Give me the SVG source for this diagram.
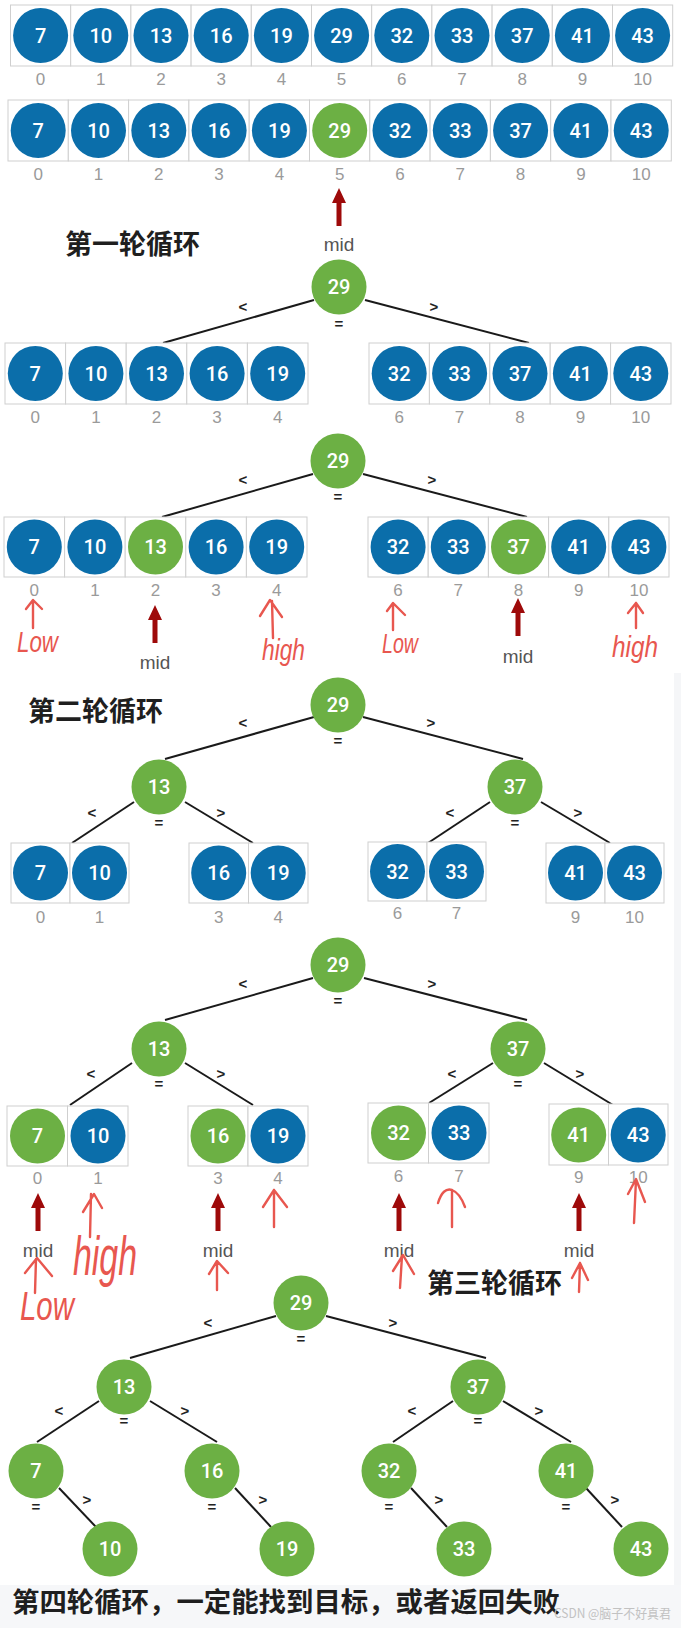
<svg xmlns="http://www.w3.org/2000/svg" width="681" height="1628" viewBox="0 0 681 1628">
<style>
.cell{fill:#fff;stroke:#cfcfcf;stroke-width:1}
.b{fill:#0b6eaa}
.g{fill:#6cb044}
.n{font-family:Roboto,"Liberation Sans",sans-serif;font-weight:500;font-size:20px;fill:#fff;text-anchor:middle}
.i{font-family:"Liberation Sans",Arial,sans-serif;font-size:17px;fill:#9a9a9a;text-anchor:middle}
.e{stroke:#1a1a1a;stroke-width:2;fill:none}
.op{font-family:"Liberation Sans",Arial,sans-serif;font-weight:bold;font-size:15px;fill:#222;text-anchor:middle}
.mid{font-family:"Liberation Sans",Arial,sans-serif;font-size:19px;fill:#555;text-anchor:middle}
.ar{fill:#9e0a0a}
.hw{stroke:#e8574f;stroke-width:2.4;fill:none;stroke-linecap:round;stroke-linejoin:round}
.ht{font-family:"Liberation Sans",Arial,sans-serif;font-style:italic;fill:#e8574f}
.cn{font-family:"Noto Sans CJK SC",sans-serif;font-weight:bold;font-size:27px;fill:#1f1f1f}
.wm{font-family:"Noto Sans CJK SC",sans-serif;font-size:13px;fill:#c2c2c2}
</style>
<defs>
<path id="arr" class="ar" d="M0,0 L-7,15 L-2.5,15 L-2.5,38 L2.5,38 L2.5,15 L7,15 Z"/>
</defs>
<rect x="0" y="0" width="681" height="1628" fill="#fff"/>
<rect x="674" y="673" width="7" height="912" fill="#f5f6f8"/>
<rect x="0" y="1585" width="681" height="43" fill="#f6f7f9"/>

<!-- Row A -->
<g id="rowA">
<rect class="cell" x="10.5" y="5" width="60.2" height="61"/><rect class="cell" x="70.7" y="5" width="60.2" height="61"/><rect class="cell" x="130.9" y="5" width="60.2" height="61"/><rect class="cell" x="191.1" y="5" width="60.2" height="61"/><rect class="cell" x="251.3" y="5" width="60.2" height="61"/><rect class="cell" x="311.5" y="5" width="60.2" height="61"/><rect class="cell" x="371.7" y="5" width="60.2" height="61"/><rect class="cell" x="431.9" y="5" width="60.2" height="61"/><rect class="cell" x="492.1" y="5" width="60.2" height="61"/><rect class="cell" x="552.3" y="5" width="60.2" height="61"/><rect class="cell" x="612.5" y="5" width="60.2" height="61"/>
<circle class="b" cx="40.6" cy="35.5" r="27.5"/><circle class="b" cx="100.8" cy="35.5" r="27.5"/><circle class="b" cx="161" cy="35.5" r="27.5"/><circle class="b" cx="221.2" cy="35.5" r="27.5"/><circle class="b" cx="281.4" cy="35.5" r="27.5"/><circle class="b" cx="341.6" cy="35.5" r="27.5"/><circle class="b" cx="401.8" cy="35.5" r="27.5"/><circle class="b" cx="462" cy="35.5" r="27.5"/><circle class="b" cx="522.2" cy="35.5" r="27.5"/><circle class="b" cx="582.4" cy="35.5" r="27.5"/><circle class="b" cx="642.6" cy="35.5" r="27.5"/>
<text class="n" x="40.6" y="42.5">7</text><text class="n" x="100.8" y="42.5">10</text><text class="n" x="161" y="42.5">13</text><text class="n" x="221.2" y="42.5">16</text><text class="n" x="281.4" y="42.5">19</text><text class="n" x="341.6" y="42.5">29</text><text class="n" x="401.8" y="42.5">32</text><text class="n" x="462" y="42.5">33</text><text class="n" x="522.2" y="42.5">37</text><text class="n" x="582.4" y="42.5">41</text><text class="n" x="642.6" y="42.5">43</text>
<text class="i" x="40.6" y="85">0</text><text class="i" x="100.8" y="85">1</text><text class="i" x="161" y="85">2</text><text class="i" x="221.2" y="85">3</text><text class="i" x="281.4" y="85">4</text><text class="i" x="341.6" y="85">5</text><text class="i" x="401.8" y="85">6</text><text class="i" x="462" y="85">7</text><text class="i" x="522.2" y="85">8</text><text class="i" x="582.4" y="85">9</text><text class="i" x="642.6" y="85">10</text>
</g>

<!-- Row B -->
<g id="rowB">
<rect class="cell" x="8" y="100" width="60.3" height="61"/><rect class="cell" x="68.3" y="100" width="60.3" height="61"/><rect class="cell" x="128.6" y="100" width="60.3" height="61"/><rect class="cell" x="188.9" y="100" width="60.3" height="61"/><rect class="cell" x="249.2" y="100" width="60.3" height="61"/><rect class="cell" x="309.5" y="100" width="60.3" height="61"/><rect class="cell" x="369.8" y="100" width="60.3" height="61"/><rect class="cell" x="430.1" y="100" width="60.3" height="61"/><rect class="cell" x="490.4" y="100" width="60.3" height="61"/><rect class="cell" x="550.7" y="100" width="60.3" height="61"/><rect class="cell" x="611" y="100" width="60.3" height="61"/>
<circle class="b" cx="38.2" cy="130.5" r="27.5"/><circle class="b" cx="98.5" cy="130.5" r="27.5"/><circle class="b" cx="158.8" cy="130.5" r="27.5"/><circle class="b" cx="219.1" cy="130.5" r="27.5"/><circle class="b" cx="279.4" cy="130.5" r="27.5"/><circle class="g" cx="339.7" cy="130.5" r="27.5"/><circle class="b" cx="400" cy="130.5" r="27.5"/><circle class="b" cx="460.3" cy="130.5" r="27.5"/><circle class="b" cx="520.6" cy="130.5" r="27.5"/><circle class="b" cx="580.9" cy="130.5" r="27.5"/><circle class="b" cx="641.2" cy="130.5" r="27.5"/>
<text class="n" x="38.2" y="137.5">7</text><text class="n" x="98.5" y="137.5">10</text><text class="n" x="158.8" y="137.5">13</text><text class="n" x="219.1" y="137.5">16</text><text class="n" x="279.4" y="137.5">19</text><text class="n" x="339.7" y="137.5">29</text><text class="n" x="400" y="137.5">32</text><text class="n" x="460.3" y="137.5">33</text><text class="n" x="520.6" y="137.5">37</text><text class="n" x="580.9" y="137.5">41</text><text class="n" x="641.2" y="137.5">43</text>
<text class="i" x="38.2" y="180">0</text><text class="i" x="98.5" y="180">1</text><text class="i" x="158.8" y="180">2</text><text class="i" x="219.1" y="180">3</text><text class="i" x="279.4" y="180">4</text><text class="i" x="339.7" y="180">5</text><text class="i" x="400" y="180">6</text><text class="i" x="460.3" y="180">7</text><text class="i" x="520.6" y="180">8</text><text class="i" x="580.9" y="180">9</text><text class="i" x="641.2" y="180">10</text>
<use href="#arr" x="339" y="188"/>
<text class="mid" x="339" y="251">mid</text>
</g>
<text class="cn" x="65" y="254">第一轮循环</text>

<!-- Section 2 -->
<g id="connectors2">
<line class="e" x1="314" y1="300" x2="163" y2="343"/><line class="e" x1="365" y1="300" x2="529" y2="343"/>
<text class="op" x="243" y="312">&lt;</text><text class="op" x="434" y="312">&gt;</text><text class="op" x="339" y="329">=</text>
</g>
<g id="s2root"><circle class="g" cx="339" cy="287" r="27.5"/><text class="n" x="339" y="294">29</text></g>
<g id="s2left">
<rect class="cell" x="5" y="343" width="60.6" height="61"/><rect class="cell" x="65.6" y="343" width="60.6" height="61"/><rect class="cell" x="126.2" y="343" width="60.6" height="61"/><rect class="cell" x="186.8" y="343" width="60.6" height="61"/><rect class="cell" x="247.4" y="343" width="60.6" height="61"/>
<circle class="b" cx="35.3" cy="373.5" r="27.5"/><circle class="b" cx="95.9" cy="373.5" r="27.5"/><circle class="b" cx="156.5" cy="373.5" r="27.5"/><circle class="b" cx="217.1" cy="373.5" r="27.5"/><circle class="b" cx="277.7" cy="373.5" r="27.5"/>
<text class="n" x="35.3" y="380.5">7</text><text class="n" x="95.9" y="380.5">10</text><text class="n" x="156.5" y="380.5">13</text><text class="n" x="217.1" y="380.5">16</text><text class="n" x="277.7" y="380.5">19</text>
<text class="i" x="35.3" y="423">0</text><text class="i" x="95.9" y="423">1</text><text class="i" x="156.5" y="423">2</text><text class="i" x="217.1" y="423">3</text><text class="i" x="277.7" y="423">4</text>
</g>
<g id="s2right">
<rect class="cell" x="369" y="343" width="60.4" height="61"/><rect class="cell" x="429.4" y="343" width="60.4" height="61"/><rect class="cell" x="489.8" y="343" width="60.4" height="61"/><rect class="cell" x="550.2" y="343" width="60.4" height="61"/><rect class="cell" x="610.6" y="343" width="60.4" height="61"/>
<circle class="b" cx="399.2" cy="373.5" r="27.5"/><circle class="b" cx="459.6" cy="373.5" r="27.5"/><circle class="b" cx="520" cy="373.5" r="27.5"/><circle class="b" cx="580.4" cy="373.5" r="27.5"/><circle class="b" cx="640.8" cy="373.5" r="27.5"/>
<text class="n" x="399.2" y="380.5">32</text><text class="n" x="459.6" y="380.5">33</text><text class="n" x="520" y="380.5">37</text><text class="n" x="580.4" y="380.5">41</text><text class="n" x="640.8" y="380.5">43</text>
<text class="i" x="399.2" y="423">6</text><text class="i" x="459.6" y="423">7</text><text class="i" x="520" y="423">8</text><text class="i" x="580.4" y="423">9</text><text class="i" x="640.8" y="423">10</text>
</g>

<!-- Section 3 -->
<g id="connectors3">
<line class="e" x1="313" y1="474" x2="162" y2="517"/><line class="e" x1="363" y1="474" x2="527" y2="517"/>
<text class="op" x="243" y="485">&lt;</text><text class="op" x="432" y="485">&gt;</text><text class="op" x="338" y="502">=</text>
</g>
<g id="s3root"><circle class="g" cx="338" cy="461" r="27.5"/><text class="n" x="338" y="468">29</text></g>
<g id="s3left">
<rect class="cell" x="4" y="517" width="60.6" height="60"/><rect class="cell" x="64.6" y="517" width="60.6" height="60"/><rect class="cell" x="125.2" y="517" width="60.6" height="60"/><rect class="cell" x="185.8" y="517" width="60.6" height="60"/><rect class="cell" x="246.4" y="517" width="60.6" height="60"/>
<circle class="b" cx="34.3" cy="547" r="27.5"/><circle class="b" cx="94.9" cy="547" r="27.5"/><circle class="g" cx="155.5" cy="547" r="27.5"/><circle class="b" cx="216.1" cy="547" r="27.5"/><circle class="b" cx="276.7" cy="547" r="27.5"/>
<text class="n" x="34.3" y="554">7</text><text class="n" x="94.9" y="554">10</text><text class="n" x="155.5" y="554">13</text><text class="n" x="216.1" y="554">16</text><text class="n" x="276.7" y="554">19</text>
<text class="i" x="34.3" y="596">0</text><text class="i" x="94.9" y="596">1</text><text class="i" x="155.5" y="596">2</text><text class="i" x="216.1" y="596">3</text><text class="i" x="276.7" y="596">4</text>
</g>
<g id="s3right">
<rect class="cell" x="368" y="517" width="60.2" height="60"/><rect class="cell" x="428.2" y="517" width="60.2" height="60"/><rect class="cell" x="488.4" y="517" width="60.2" height="60"/><rect class="cell" x="548.6" y="517" width="60.2" height="60"/><rect class="cell" x="608.8" y="517" width="60.2" height="60"/>
<circle class="b" cx="398.1" cy="547" r="27.5"/><circle class="b" cx="458.3" cy="547" r="27.5"/><circle class="g" cx="518.5" cy="547" r="27.5"/><circle class="b" cx="578.7" cy="547" r="27.5"/><circle class="b" cx="638.9" cy="547" r="27.5"/>
<text class="n" x="398.1" y="554">32</text><text class="n" x="458.3" y="554">33</text><text class="n" x="518.5" y="554">37</text><text class="n" x="578.7" y="554">41</text><text class="n" x="638.9" y="554">43</text>
<text class="i" x="398.1" y="596">6</text><text class="i" x="458.3" y="596">7</text><text class="i" x="518.5" y="596">8</text><text class="i" x="578.7" y="596">9</text><text class="i" x="638.9" y="596">10</text>
</g>
<g id="s3marks">
<use href="#arr" x="155" y="605"/><text class="mid" x="155" y="669">mid</text>
<use href="#arr" x="518" y="598"/><text class="mid" x="518" y="663">mid</text>
<path class="hw" d="M33,628 L33,601 M26,609 L33,600 L42,609"/>
<text class="ht" x="17" y="652" font-size="30" textLength="41" lengthAdjust="spacingAndGlyphs">Low</text>
<path class="hw" d="M273,638 L272,601 M260,616 L270,600 L282,617"/>
<text class="ht" x="262" y="660" font-size="30" textLength="43" lengthAdjust="spacingAndGlyphs">high</text>
<path class="hw" d="M393,630 L393,604 M387,611 L393,603 L405,615"/>
<text class="ht" x="382" y="653" font-size="28" textLength="36" lengthAdjust="spacingAndGlyphs">Low</text>
<path class="hw" d="M636,628 L636,603 M628,613 L636,603 L643,613"/>
<text class="ht" x="612" y="657" font-size="30" textLength="46" lengthAdjust="spacingAndGlyphs">high</text>
</g>

<!-- Section 4 -->
<text class="cn" x="28" y="721">第二轮循环</text>
<g id="connectors4">
<line class="e" x1="314" y1="717" x2="165" y2="759"/><line class="e" x1="363" y1="717" x2="523" y2="759"/>
<line class="e" x1="134" y1="802" x2="72" y2="843"/><line class="e" x1="185" y1="802" x2="253" y2="843"/>
<line class="e" x1="490" y1="802" x2="428" y2="843"/><line class="e" x1="541" y1="802" x2="610" y2="843"/>
<text class="op" x="243" y="728">&lt;</text><text class="op" x="431" y="728">&gt;</text><text class="op" x="338" y="746">=</text>
<text class="op" x="92" y="818">&lt;</text><text class="op" x="221" y="818">&gt;</text><text class="op" x="159" y="828">=</text>
<text class="op" x="450" y="818">&lt;</text><text class="op" x="578" y="818">&gt;</text><text class="op" x="515" y="828">=</text>
</g>
<g id="s4root"><circle class="g" cx="338" cy="705" r="27.5"/><text class="n" x="338" y="712">29</text></g>
<g id="s4n13"><circle class="g" cx="159" cy="787" r="27.5"/><text class="n" x="159" y="794">13</text></g>
<g id="s4n37"><circle class="g" cx="515" cy="787" r="27.5"/><text class="n" x="515" y="794">37</text></g>
<g id="s4a">
<rect class="cell" x="11" y="843" width="59" height="60"/><rect class="cell" x="70" y="843" width="59" height="60"/>
<circle class="b" cx="40.5" cy="873" r="27.5"/><circle class="b" cx="99.5" cy="873" r="27.5"/>
<text class="n" x="40.5" y="880">7</text><text class="n" x="99.5" y="880">10</text>
<text class="i" x="40.5" y="923">0</text><text class="i" x="99.5" y="923">1</text>
</g>
<g id="s4b">
<rect class="cell" x="189" y="843" width="59.5" height="60"/><rect class="cell" x="248.5" y="843" width="59.5" height="60"/>
<circle class="b" cx="218.7" cy="873" r="27.5"/><circle class="b" cx="278.2" cy="873" r="27.5"/>
<text class="n" x="218.7" y="880">16</text><text class="n" x="278.2" y="880">19</text>
<text class="i" x="218.7" y="923">3</text><text class="i" x="278.2" y="923">4</text>
</g>
<g id="s4c">
<rect class="cell" x="368" y="842" width="59" height="59"/><rect class="cell" x="427" y="842" width="59" height="59"/>
<circle class="b" cx="397.5" cy="871.5" r="27.5"/><circle class="b" cx="456.5" cy="871.5" r="27.5"/>
<text class="n" x="397.5" y="878.5">32</text><text class="n" x="456.5" y="878.5">33</text>
<text class="i" x="397.5" y="919">6</text><text class="i" x="456.5" y="919">7</text>
</g>
<g id="s4d">
<rect class="cell" x="546" y="843" width="59" height="60"/><rect class="cell" x="605" y="843" width="59" height="60"/>
<circle class="b" cx="575.5" cy="873" r="27.5"/><circle class="b" cx="634.5" cy="873" r="27.5"/>
<text class="n" x="575.5" y="880">41</text><text class="n" x="634.5" y="880">43</text>
<text class="i" x="575.5" y="923">9</text><text class="i" x="634.5" y="923">10</text>
</g>

<!-- Section 5 -->
<g id="connectors5">
<line class="e" x1="313" y1="978" x2="165" y2="1020"/><line class="e" x1="364" y1="978" x2="527" y2="1020"/>
<line class="e" x1="132" y1="1063" x2="70" y2="1105"/><line class="e" x1="185" y1="1063" x2="253" y2="1105"/>
<line class="e" x1="493" y1="1063" x2="429" y2="1103"/><line class="e" x1="544" y1="1063" x2="613" y2="1105"/>
<text class="op" x="243" y="989">&lt;</text><text class="op" x="432" y="989">&gt;</text><text class="op" x="338" y="1006">=</text>
<text class="op" x="91" y="1079">&lt;</text><text class="op" x="221" y="1079">&gt;</text><text class="op" x="159" y="1089">=</text>
<text class="op" x="452" y="1079">&lt;</text><text class="op" x="580" y="1079">&gt;</text><text class="op" x="518" y="1089">=</text>
</g>
<g id="s5root"><circle class="g" cx="338" cy="965" r="27.5"/><text class="n" x="338" y="972">29</text></g>
<g id="s5n13"><circle class="g" cx="159" cy="1049" r="27.5"/><text class="n" x="159" y="1056">13</text></g>
<g id="s5n37"><circle class="g" cx="518" cy="1049" r="27.5"/><text class="n" x="518" y="1056">37</text></g>
<g id="s5a">
<rect class="cell" x="7" y="1106" width="60.5" height="60"/><rect class="cell" x="67.5" y="1106" width="60.5" height="60"/>
<circle class="g" cx="37.5" cy="1136" r="27.5"/><circle class="b" cx="98" cy="1136" r="27.5"/>
<text class="n" x="37.5" y="1143">7</text><text class="n" x="98" y="1143">10</text>
<text class="i" x="37.5" y="1184">0</text><text class="i" x="98" y="1184">1</text>
</g>
<g id="s5b">
<rect class="cell" x="188" y="1106" width="60" height="60"/><rect class="cell" x="248" y="1106" width="60" height="60"/>
<circle class="g" cx="218" cy="1136" r="27.5"/><circle class="b" cx="278" cy="1136" r="27.5"/>
<text class="n" x="218" y="1143">16</text><text class="n" x="278" y="1143">19</text>
<text class="i" x="218" y="1184">3</text><text class="i" x="278" y="1184">4</text>
</g>
<g id="s5c">
<rect class="cell" x="368" y="1103" width="60.5" height="60"/><rect class="cell" x="428.5" y="1103" width="60.5" height="60"/>
<circle class="g" cx="398.5" cy="1133" r="27.5"/><circle class="b" cx="459" cy="1133" r="27.5"/>
<text class="n" x="398.5" y="1140">32</text><text class="n" x="459" y="1140">33</text>
<text class="i" x="398.5" y="1182">6</text><text class="i" x="459" y="1182">7</text>
</g>
<g id="s5d">
<rect class="cell" x="549" y="1104" width="59.5" height="61"/><rect class="cell" x="608.5" y="1104" width="59.5" height="61"/>
<circle class="g" cx="578.7" cy="1135" r="27.5"/><circle class="b" cx="638.2" cy="1135" r="27.5"/>
<text class="n" x="578.7" y="1142">41</text><text class="n" x="638.2" y="1142">43</text>
<text class="i" x="578.7" y="1183">9</text><text class="i" x="638.2" y="1183">10</text>
</g>
<g id="s5marks">
<use href="#arr" x="38" y="1193"/><text class="mid" x="38" y="1257">mid</text>
<use href="#arr" x="218" y="1193"/><text class="mid" x="218" y="1257">mid</text>
<use href="#arr" x="399" y="1193"/><text class="mid" x="399" y="1257">mid</text>
<use href="#arr" x="579" y="1193"/><text class="mid" x="579" y="1257">mid</text>
<path class="hw" d="M90,1237 L91,1194 M83,1212 L94,1194 L102,1208"/>
<text class="ht" x="73" y="1275" font-size="56" textLength="64" lengthAdjust="spacingAndGlyphs">high</text>
<path class="hw" d="M274,1227 L274,1190 M263,1207 L274,1190 L287,1207"/>
<path class="hw" d="M452,1227 L452,1190 M438,1203 Q443,1187 452,1190 Q460,1193 465,1207"/>
<path class="hw" d="M634,1223 L636,1180 M628,1194 L636,1179 L645,1202"/>
<path class="hw" d="M35,1293 L36,1259 M25,1273 L37,1258 L52,1276"/>
<path class="hw" d="M217,1290 L217,1262 M209,1274 L217,1261 L228,1273"/>
<path class="hw" d="M400,1288 L402,1256 M393,1271 L403,1255 L414,1274"/>
<path class="hw" d="M579,1292 L580,1263 M572,1278 L580,1263 L588,1280"/>
<text class="ht" x="20" y="1320" font-size="40" textLength="54" lengthAdjust="spacingAndGlyphs">Low</text>
</g>
<text class="cn" x="427" y="1293">第三轮循环</text>

<!-- Section 6 -->
<g id="connectors6">
<line class="e" x1="276" y1="1316" x2="130" y2="1358"/><line class="e" x1="326" y1="1316" x2="486" y2="1358"/>
<line class="e" x1="99" y1="1401" x2="37" y2="1442"/><line class="e" x1="150" y1="1401" x2="217" y2="1442"/>
<line class="e" x1="453" y1="1401" x2="393" y2="1442"/><line class="e" x1="503" y1="1401" x2="571" y2="1442"/>
<line class="e" x1="59" y1="1488" x2="96" y2="1527"/><line class="e" x1="235" y1="1488" x2="271" y2="1527"/>
<line class="e" x1="411" y1="1488" x2="447" y2="1527"/><line class="e" x1="586" y1="1488" x2="622" y2="1527"/>
<text class="op" x="208" y="1328">&lt;</text><text class="op" x="393" y="1328">&gt;</text><text class="op" x="301" y="1344">=</text>
<text class="op" x="59" y="1416">&lt;</text><text class="op" x="185" y="1416">&gt;</text><text class="op" x="124" y="1426">=</text>
<text class="op" x="412" y="1416">&lt;</text><text class="op" x="539" y="1416">&gt;</text><text class="op" x="478" y="1426">=</text>
<text class="op" x="87" y="1505">&gt;</text><text class="op" x="36" y="1512">=</text>
<text class="op" x="263" y="1505">&gt;</text><text class="op" x="212" y="1512">=</text>
<text class="op" x="439" y="1505">&gt;</text><text class="op" x="389" y="1512">=</text>
<text class="op" x="615" y="1505">&gt;</text><text class="op" x="566" y="1512">=</text>
</g>
<g id="t29"><circle class="g" cx="301" cy="1303" r="27.5"/><text class="n" x="301" y="1310">29</text></g>
<g id="t13"><circle class="g" cx="124" cy="1387" r="27.5"/><text class="n" x="124" y="1394">13</text></g>
<g id="t37"><circle class="g" cx="478" cy="1387" r="27.5"/><text class="n" x="478" y="1394">37</text></g>
<g id="t7"><circle class="g" cx="36" cy="1471" r="27.5"/><text class="n" x="36" y="1478">7</text></g>
<g id="t16"><circle class="g" cx="212" cy="1471" r="27.5"/><text class="n" x="212" y="1478">16</text></g>
<g id="t32"><circle class="g" cx="389" cy="1471" r="27.5"/><text class="n" x="389" y="1478">32</text></g>
<g id="t41"><circle class="g" cx="566" cy="1471" r="27.5"/><text class="n" x="566" y="1478">41</text></g>
<g id="t10"><circle class="g" cx="110" cy="1549" r="27.5"/><text class="n" x="110" y="1556">10</text></g>
<g id="t19"><circle class="g" cx="287" cy="1549" r="27.5"/><text class="n" x="287" y="1556">19</text></g>
<g id="t33"><circle class="g" cx="464" cy="1549" r="27.5"/><text class="n" x="464" y="1556">33</text></g>
<g id="t43"><circle class="g" cx="641" cy="1549" r="27.5"/><text class="n" x="641" y="1556">43</text></g>

<text class="cn" x="12" y="1612" font-size="27.4" textLength="548" lengthAdjust="spacingAndGlyphs">第四轮循环，一定能找到目标，或者返回失败</text>
<text class="wm" x="554" y="1618" textLength="117" lengthAdjust="spacingAndGlyphs">CSDN @脑子不好真君</text>
</svg>
